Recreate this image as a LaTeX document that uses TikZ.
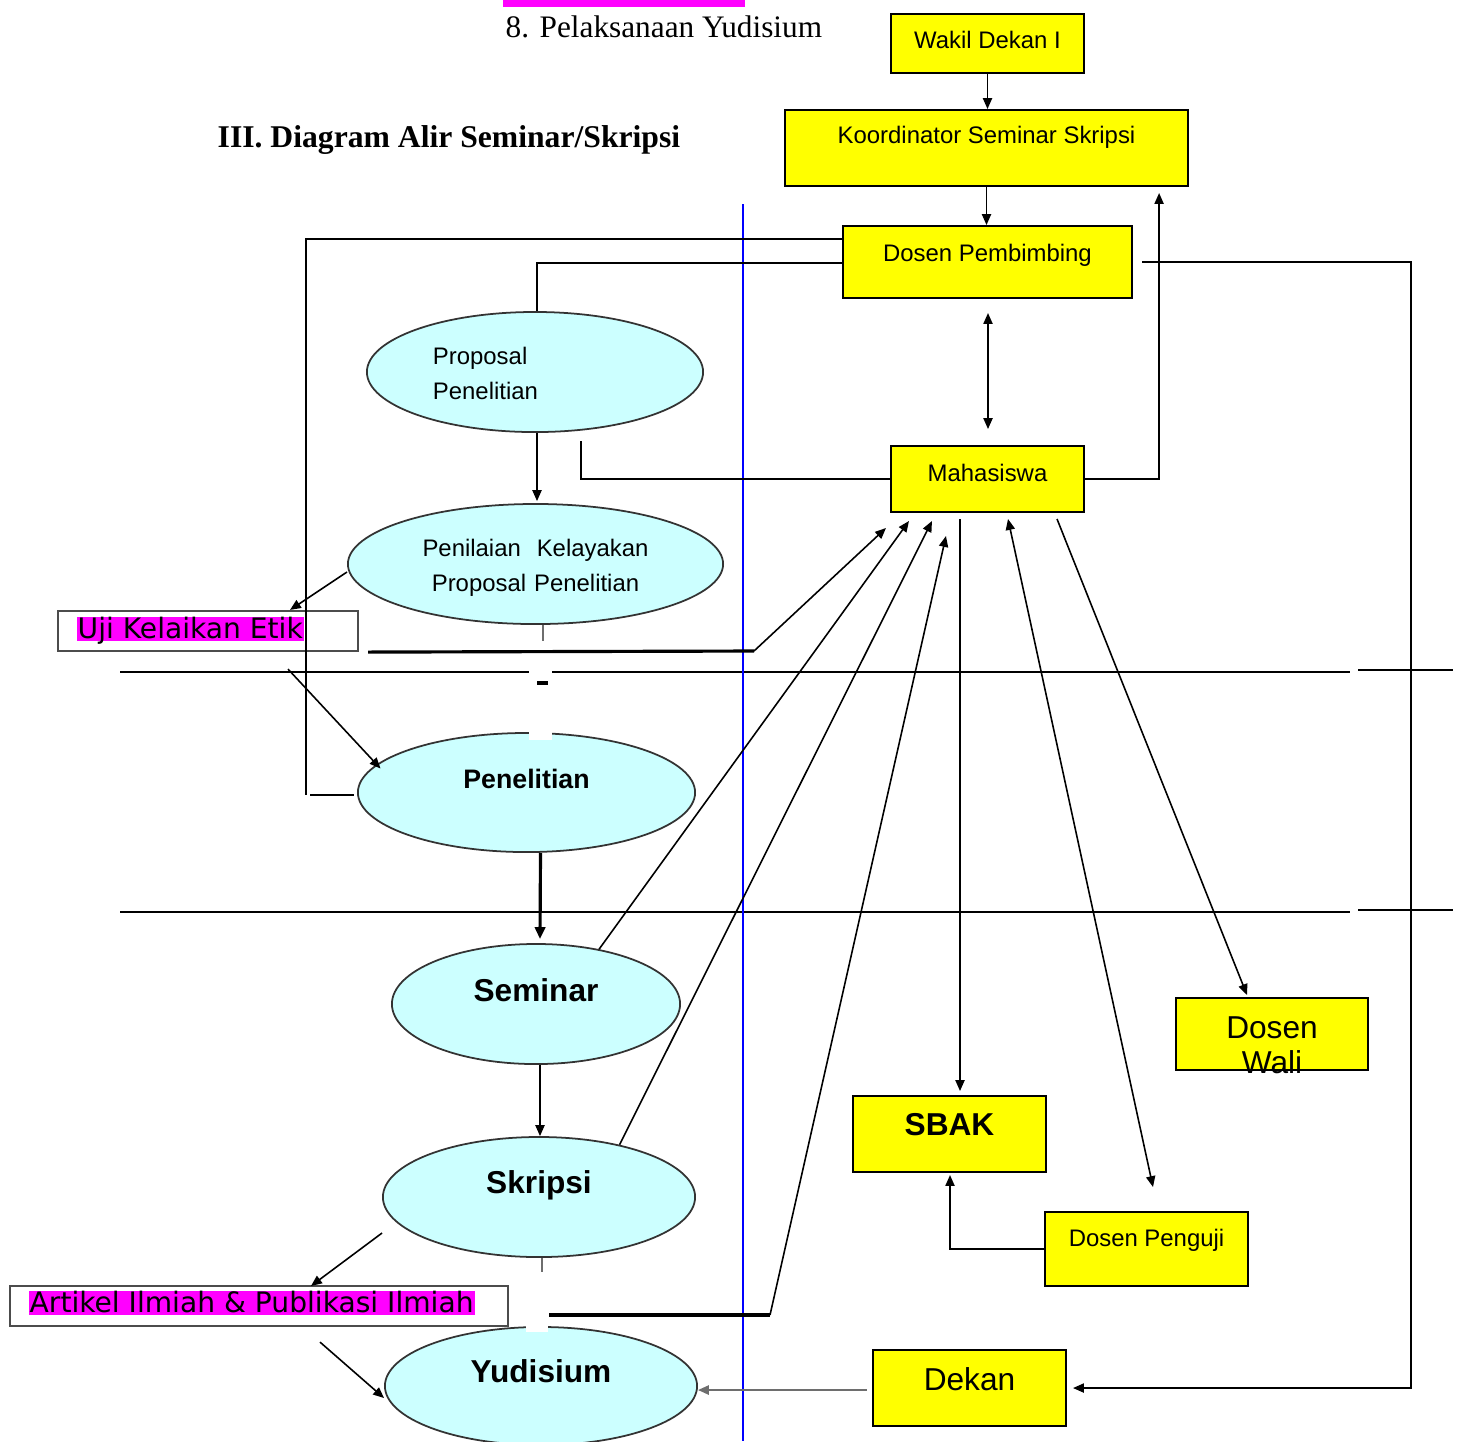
\documentclass[tikz,border=0pt]{standalone}
\usepackage{fontspec}
\setmainfont{Liberation Sans}
\newfontfamily\hurufjudul{Liberation Serif}
\newfontfamily\hurufsorot{DejaVu Sans}
\usetikzlibrary{calc,shapes.geometric,arrows.meta}
\definecolor{cyanmuda}{RGB}{204,255,255}
\definecolor{kuning}{RGB}{255,255,0}
\definecolor{ungu}{RGB}{255,0,255}
\definecolor{biru}{RGB}{0,0,255}
\definecolor{abu}{RGB}{110,110,110}

\tikzset{
  kotak/.style={draw, fill=kuning, line width=0.55pt, inner sep=0pt, font=\fontsize{6.8}{8}\selectfont},
  elips/.style={ellipse, draw=black!80, fill=cyanmuda, line width=0.5pt, inner sep=0pt, text height=0.1cm},
  hurufbesar/.style={font=\bfseries\fontsize{9}{11}\selectfont},
  bingkai/.style={draw=black!70, line width=0.6pt, fill=white, inner sep=0pt},
  sorot/.style={fill=ungu, inner xsep=0.01cm, inner ysep=0pt, text height=0.21cm, text depth=0.03cm, font=\hurufsorot\fontsize{8}{9}\selectfont},
  panah/.style={-{Triangle[length=3.1pt,width=2.6pt]}, line width=0.45pt},
  duapanah/.style={{Triangle[length=3.1pt,width=2.6pt]}-{Triangle[length=3.1pt,width=2.6pt]}, line width=0.45pt},
  garis/.style={line width=0.45pt},
  tebal/.style={line width=0.9pt},
}

\begin{document}
\begin{tikzpicture}[x=0.01cm, y=-0.01cm]
  \useasboundingbox (0,0) rectangle (1458,1441);

  % judul
  \fill[ungu] (503,0) rectangle (745,7);
  \node[anchor=base west, inner sep=0pt, font=\hurufjudul\fontsize{8.9}{10}\selectfont] (butir) at (505,37.5) {8. Pelaksanaan Yudisium};
  \node[anchor=base west, inner sep=0pt, font=\hurufjudul\bfseries\fontsize{9}{10}\selectfont] (judul) at (217,147.5) {III. Diagram Alir Seminar/Skripsi};

  % garis batas
  \draw[garis] (120,672) -- (1350,672);
  \draw[garis] (1358,670) -- (1453,670);
  \draw[garis] (120,912) -- (1350,912);
  \draw[garis] (1358,910) -- (1453,910);
  \draw[biru, line width=0.45pt] (743,204) -- (743,1441);

  % kotak kuning
  \node[kotak, minimum width=1.93cm, text height=0.345cm, text depth=0.245cm] (wadek) at (987.5,43.5) {Wakil Dekan I};
  \node[kotak, minimum width=4.03cm, text height=0.335cm, text depth=0.425cm] (koord) at (986.5,148) {Koordinator Seminar Skripsi};
  \node[kotak, minimum width=2.89cm, text height=0.355cm, text depth=0.365cm] (dp) at (987.5,262) {Dosen Pembimbing};
  \node[kotak, minimum width=1.93cm, text height=0.355cm, text depth=0.305cm] (mhs) at (987.5,479) {Mahasiswa};
  \node[kotak, minimum width=1.92cm, text height=0.40cm, text depth=0.32cm, text width=1.9cm, align=center, font=\fontsize{9}{10}\selectfont] (wali) at (1272,1034) {Dosen\\Wali};
  \node[kotak, minimum width=1.93cm, text height=0.39cm, text depth=0.37cm, hurufbesar] (sbak) at (949.5,1134) {SBAK};
  \node[kotak, minimum width=2.03cm, text height=0.345cm, text depth=0.395cm] (penguji) at (1146.5,1249) {Dosen Penguji};
  \node[kotak, minimum width=1.93cm, text height=0.40cm, text depth=0.36cm, font=\fontsize{9}{11}\selectfont] (dekan) at (969.5,1388) {Dekan};

  % elips
  \node[elips, minimum width=3.36cm, minimum height=1.2cm, text depth=0.26cm, text width=2.04cm, align=left, font=\fontsize{6.8}{10}\selectfont] (proposal) at (535,372) {Proposal\\Penelitian};
  \node[elips, minimum width=3.75cm, minimum height=1.2cm, text depth=0.26cm, text width=2.3cm, align=center, font=\fontsize{6.8}{10}\selectfont] (penilaian) at (535.5,564) {Penilaian\ \ Kelayakan\\Proposal Penelitian};
  \node[elips, minimum width=3.37cm, minimum height=1.19cm, text depth=0.18cm, font=\bfseries\fontsize{7.6}{9}\selectfont] (penelitian) at (526.5,792.5) {Penelitian};
  \node[elips, minimum width=2.88cm, minimum height=1.2cm, text depth=0.16cm, hurufbesar] (seminar) at (536,1004) {Seminar};
  \node[elips, minimum width=3.12cm, minimum height=1.2cm, text depth=0.18cm, hurufbesar] (skripsi) at (539,1197) {Skripsi};
  \node[elips, minimum width=3.12cm, minimum height=1.18cm, text depth=0.18cm, hurufbesar] (yudisium) at (541,1386) {Yudisium};

  % kotak sorot
  \node[bingkai, minimum width=3.0cm, minimum height=0.4cm] (uji) at (208,631) {};
  \node[sorot, anchor=base west] (ujiteks) at (76,638) {Uji Kelaikan Etik};
  \node[bingkai, minimum width=4.98cm, minimum height=0.4cm] (artikel) at (259,1306) {};
  \node[sorot, anchor=base west] (artikelteks) at (28,1312) {Artikel Ilmiah \& Publikasi Ilmiah};

  % alur atas
  \draw[panah] (wadek.south) -- (wadek.south |- koord.north);
  \draw[panah] (koord.south) -- (koord.south |- dp.north);
  \draw[duapanah] ($(dp.south)+(0.5,14)$) -- ($(mhs.north)+(0.5,-16)$);
  \draw[panah] (mhs.east) -| ($(koord.south east)+(-30,6)$);
  \draw[panah] ($(dp.east)+(9,0)$) -- ++(269,0) |- ($(dekan.east)+(6,0)$);
  \coordinate (kiri) at (306,795);
  \draw[garis] ($(dp.north west)+(0,14)$) -| (kiri);
  \draw[garis] ($(kiri)+(4,0)$) -- ($(penelitian.west)+(-3,2.5)$);
  \draw[garis] ($(dp.north west)+(0,38)$) -| ($(proposal.north)+(2,0)$);
  \draw[panah] ($(proposal.south)+(2,0)$) -- ($(penilaian.north)+(1.5,-2)$);
  \draw[garis] (mhs.west) -| ($(proposal.south)+(46,8)$);

  % etik
  \draw[panah] ($(penilaian.west)+(0,8)$) -- ($(uji.north)+(82,0)$);
  \draw[panah] ($(uji.south)+(80,17)$) -- ($(penelitian.center)+(-146,-24)$);
  \coordinate (tekuk1) at (754,651);
  \draw[tebal] ($(uji.south east)+(9,0)$) -- (tekuk1);
  \draw[panah] (tekuk1) -- ($(mhs.south west)+(-4,15)$);
  \draw[abu, line width=0.6pt] ($(penilaian.south)+(7.5,0)$) -- ++(0,16);
  \fill[white] (529,670) rectangle (552,740);
  \draw[line width=1pt] (537,683) -- (548,683);

  % alur bawah
  \draw[-{Triangle[length=3.4pt,width=2.9pt]}, line width=0.9pt] ($(penelitian.south)+(14,0)$) -- ($(seminar.north)+(4,-4)$);
  \draw[panah] ($(seminar.south)+(4,0)$) -- ($(skripsi.north)+(1,0)$);
  \draw[panah] (seminar.41) -- ($(mhs.south west)+(19,8)$);
  \draw[panah] (skripsi.33) -- ($(mhs.south west)+(42,8)$);
  \draw[panah] ($(skripsi.west)+(0,36)$) -- ($(artikel.north)+(52,1)$);
  \draw[panah] ($(artikel.south)+(61,15)$) -- ($(yudisium.west)+(0,12)$);
  \draw[abu, line width=0.6pt] ($(skripsi.south)+(3,0)$) -- ++(0,15);
  \fill[white] (526,1272) rectangle (548,1332);
  \coordinate (tekuk2) at (770,1315);
  \draw[tebal] ($(artikel.east)+(40,9)$) -- (tekuk2);
  \draw[panah] (tekuk2) -- ($(mhs.south west)+(56,23)$);

  % mahasiswa ke kanan bawah
  \coordinate (m1) at ($(mhs.south)+(-27.5,6)$);
  \draw[panah, shorten >=0.04cm] (m1) -- (m1 |- sbak.north);
  \draw[duapanah] ($(mhs.south)+(20.5,6)$) -- ($(penguji.north)+(6.5,-24)$);
  \draw[panah] ($(mhs.south)+(69.5,6)$) -- ($(wali.north)+(-25,-2)$);
  \draw[panah] (penguji.west) -| ($(sbak.south)+(0.5,2)$);
  \draw[panah, draw=abu, line width=0.6pt] ($(dekan.west)+(-5,2)$) -- ($(yudisium.east)+(0,4)$);
\end{tikzpicture}
\end{document}
